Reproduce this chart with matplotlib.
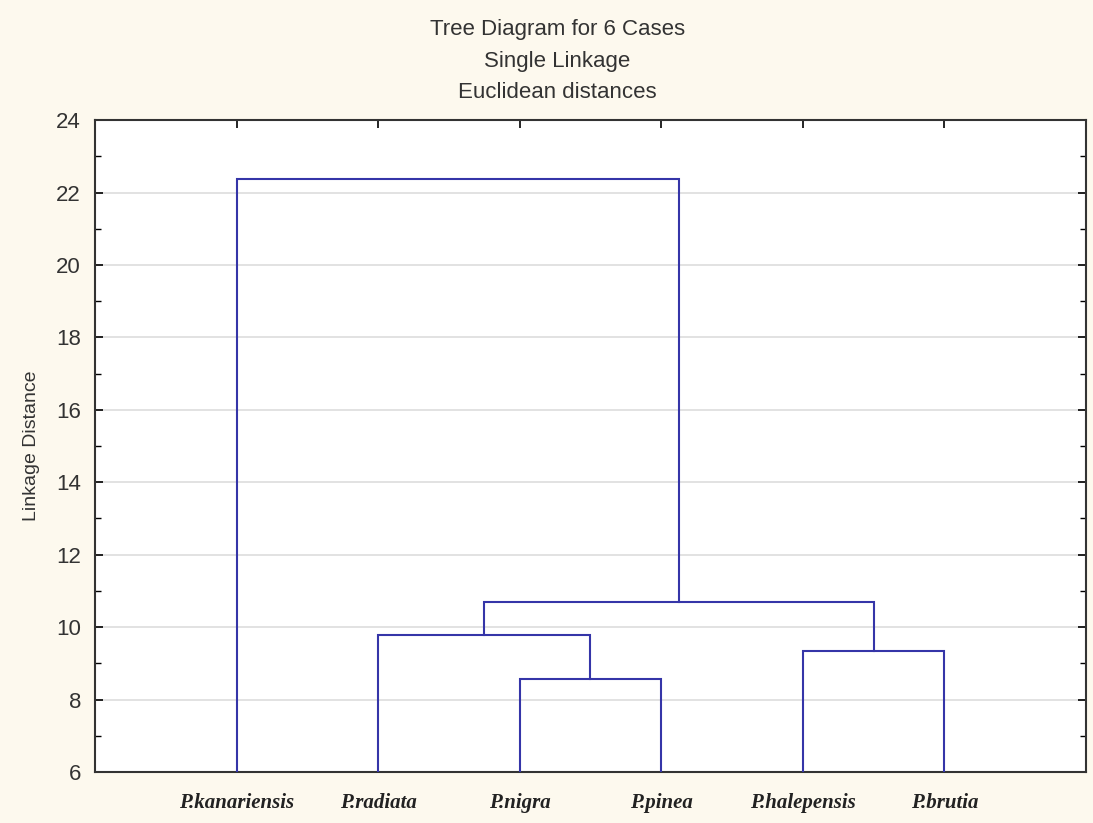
import matplotlib.pyplot as plt
from matplotlib.ticker import MultipleLocator

# leaves in display order
leaves = ["P.kanariensis", "P.radiata", "P.nigra", "P.pinea", "P.halepensis", "P.brutia"]

# merges: (left node, right node, linkage distance)
# node ids 0..5 are leaves, 6.. are clusters in order of creation
merges = [
    (2, 3, 8.56),   # 6: nigra + pinea
    (4, 5, 9.33),   # 7: halepensis + brutia
    (1, 6, 9.78),   # 8: radiata + (nigra, pinea)
    (8, 7, 10.69),  # 9
    (0, 9, 22.37),  # 10: kanariensis + rest
]

LINE_COLOR = "#3535a8"
BG = "#fdf9ee"
TEXT = "#333333"

fig = plt.figure(figsize=(10.93, 8.23), dpi=100, facecolor=BG)
ax = fig.add_axes([0.0869, 0.062, 0.9067, 0.792])
ax.set_facecolor("white")

# node positions: (x, y)
pos = {i: (i + 1, 6.0) for i in range(len(leaves))}
for k, (a, b, h) in enumerate(merges):
    xa, ya = pos[a]
    xb, yb = pos[b]
    ax.plot([xa, xa, xb, xb], [ya, h, h, yb], color=LINE_COLOR, lw=1.5,
            solid_joinstyle="miter", zorder=3)
    pos[len(leaves) + k] = ((xa + xb) / 2, h)

ax.set_xlim(0, len(leaves) + 1)
ax.set_ylim(6, 24)
ax.yaxis.set_major_locator(MultipleLocator(2))
ax.yaxis.set_minor_locator(MultipleLocator(1))
ax.set_xticks(range(1, len(leaves) + 1))
ax.set_xticklabels(leaves, family="Liberation Serif", style="italic",
                   weight="bold", fontsize=15, color="#222222")
ax.grid(axis="y", which="major", color="#dddddd", lw=1.2, zorder=0)

ax.tick_params(axis="y", which="major", direction="in", length=6, width=1.2,
               labelsize=16, labelcolor=TEXT, right=True, pad=10)
ax.tick_params(axis="y", which="minor", direction="in", length=4, width=1,
               right=True)
ax.tick_params(axis="x", direction="in", length=6, width=1.2, top=True, pad=15)
for lab in ax.get_yticklabels():
    lab.set_family("Liberation Sans")

for s in ax.spines.values():
    s.set_color("#333333")
    s.set_linewidth(1.5)

ax.set_ylabel("Linkage Distance", family="Liberation Sans", fontsize=14,
              color=TEXT, labelpad=12)

title_lines = ["Tree Diagram for 6 Cases", "Single Linkage", "Euclidean distances"]
for i, t in enumerate(title_lines):
    fig.text(0.51, 1 - (30 + 31.5 * i) / 823, t, ha="center", va="center",
             family="Liberation Sans", fontsize=16, color=TEXT)

fig.savefig("out.png", dpi=100, facecolor=BG)
